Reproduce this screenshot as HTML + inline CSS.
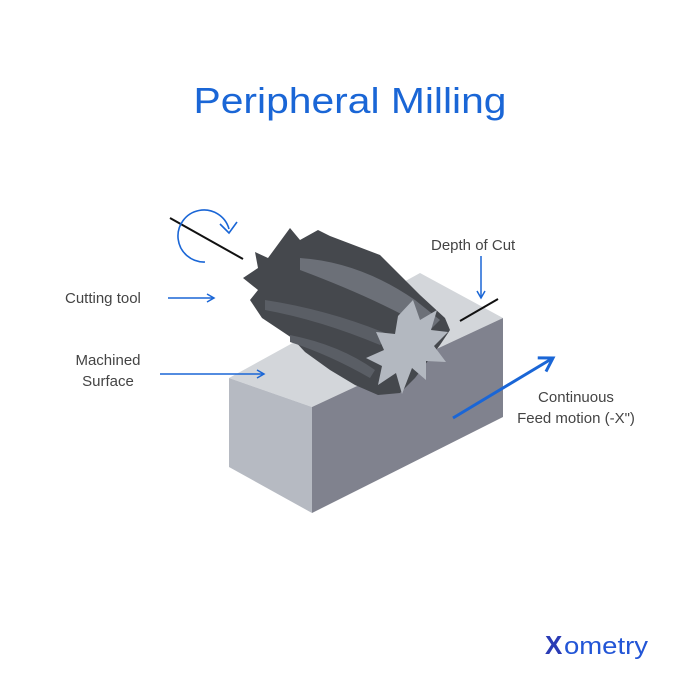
<!DOCTYPE html>
<html><head><meta charset="utf-8"><style>
html,body{margin:0;padding:0;background:#fff;}
svg{display:block;}
</style></head><body>
<svg width="700" height="700" viewBox="0 0 700 700" xmlns="http://www.w3.org/2000/svg" font-family="Liberation Sans, sans-serif">
<defs>
<marker id="ah" markerWidth="10" markerHeight="10" refX="8" refY="5" orient="auto" markerUnits="userSpaceOnUse">
<path d="M1,1 L8,5 L1,9" fill="none" stroke="#1a66d6" stroke-width="1.5"/>
</marker>
<marker id="ah2" markerWidth="20" markerHeight="20" refX="15" refY="10" orient="auto" markerUnits="userSpaceOnUse">
<path d="M2,2 L15,10 L2,18" fill="none" stroke="#1a66d6" stroke-width="3"/>
</marker>
</defs>
<text x="350" y="113" text-anchor="middle" font-size="36" fill="#1a66d6" textLength="313" lengthAdjust="spacingAndGlyphs">Peripheral Milling</text>

<!-- block -->
<polygon points="229,378 420,273 503,318 312,407" fill="#d3d6da"/>
<polygon points="229,378 312,407 312,513 229,467" fill="#b6bac2"/>
<polygon points="312,407 503,318 503,417 312,513" fill="#80828e"/>

<!-- cutter -->
<path d="M255,252 L268,258 L290,228 L300,240 L318,230 L330,236 L380,255 L420,295 L445,318 L450,330 L440,345 L415,378 L400,393 L378,395 L355,385 L330,370 L305,352 L292,338 L262,318 L250,300 L258,290 L243,278 L258,268 Z" fill="#45484d"/>
<path d="M300,258 Q360,262 415,300 L440,320 L430,330 Q380,300 300,270 Z" fill="#6c7078"/>
<path d="M265,300 Q330,310 390,335 L380,345 Q320,320 265,310 Z" fill="#5a5e65"/>
<path d="M290,335 Q340,345 375,370 L370,378 Q330,355 290,342 Z" fill="#5a5e65"/>
<!-- star end -->
<path d="M413,300 L420,320 L437,310 L431,330 L448,332 L434,346 L446,362 L426,361 L426,380 L412,368 L402,394 L396,373 L378,385 L382,366 L366,358 L384,350 L376,332 L395,334 L398,316 Z" fill="#b3b8c0"/>

<!-- rotation arrow -->
<line x1="170" y1="218" x2="243" y2="259" stroke="#111" stroke-width="2"/>
<path d="M205,262 A26,26 0 1 1 229,229" fill="none" stroke="#1a66d6" stroke-width="1.6"/>
<path d="M220,224 L229,233 L237,222" fill="none" stroke="#1a66d6" stroke-width="1.6"/>

<!-- depth of cut -->
<text x="431" y="250" font-size="15" fill="#444">Depth of Cut</text>
<line x1="481" y1="256" x2="481" y2="298" stroke="#1a66d6" stroke-width="1.5" marker-end="url(#ah)"/>
<line x1="460" y1="321" x2="498" y2="299" stroke="#111" stroke-width="2"/>

<!-- labels -->
<text x="65" y="303" font-size="15" fill="#444">Cutting tool</text>
<line x1="168" y1="298" x2="214" y2="298" stroke="#1a66d6" stroke-width="1.5" marker-end="url(#ah)"/>
<text x="108" y="365" font-size="15" fill="#444" text-anchor="middle">Machined</text>
<text x="108" y="386" font-size="15" fill="#444" text-anchor="middle">Surface</text>
<line x1="160" y1="374" x2="264" y2="374" stroke="#1a66d6" stroke-width="1.5" marker-end="url(#ah)"/>

<line x1="453" y1="418" x2="553" y2="358" stroke="#1a66d6" stroke-width="3" marker-end="url(#ah2)"/>
<text x="576" y="402" font-size="15" fill="#444" text-anchor="middle">Continuous</text>
<text x="576" y="423" font-size="15" fill="#444" text-anchor="middle">Feed motion (-X")</text>

<!-- logo -->
<text x="545" y="654" font-size="26" font-weight="bold" fill="#2a3bb5">X</text>
<text x="564" y="654" font-size="24" fill="#2255d6" textLength="84" lengthAdjust="spacingAndGlyphs">ometry</text>
</svg>
</body></html>
